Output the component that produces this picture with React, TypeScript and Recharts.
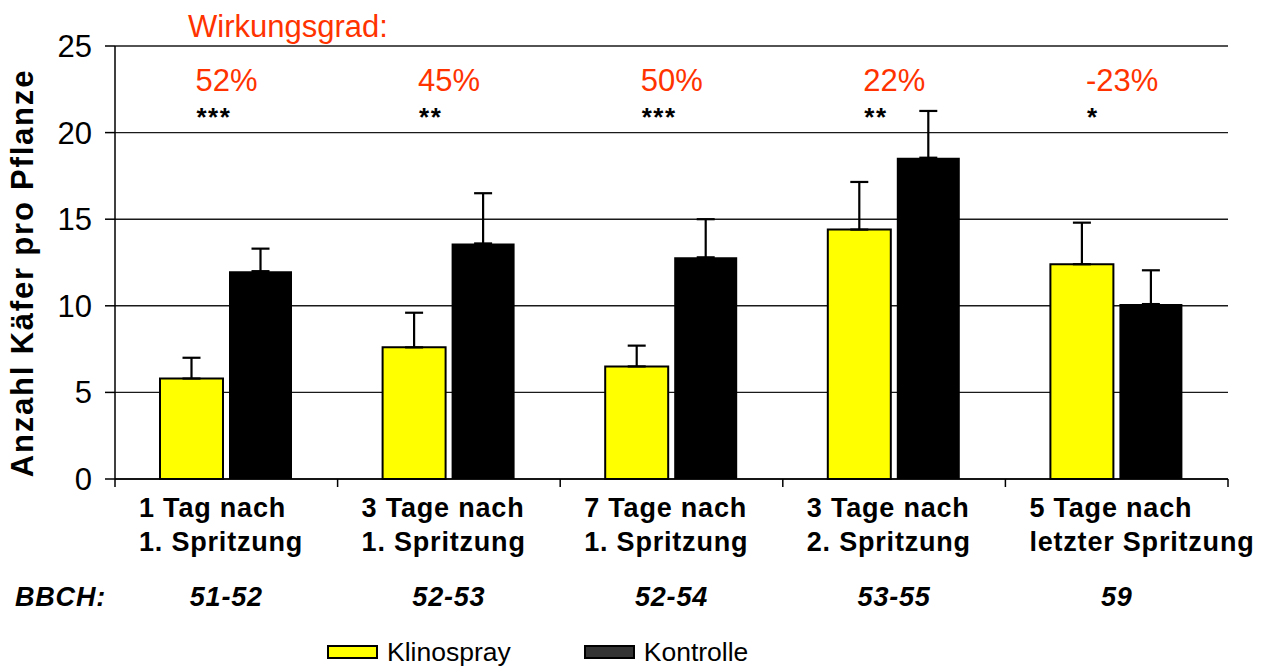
import React from 'react';
import {
  BarChart, Bar, XAxis, YAxis, CartesianGrid, ErrorBar,
  LabelList, Legend, Customized,
} from 'recharts';

const FONT = '"Liberation Sans", Arial, Helvetica, sans-serif';
const RED = '#FF3300';

// categories (two lines each) and the BBCH stage row
const categories = [
  ['1 Tag nach', '1. Spritzung'],
  ['3 Tage nach', '1. Spritzung'],
  ['7 Tage nach', '1. Spritzung'],
  ['3 Tage nach', '2. Spritzung'],
  ['5 Tage nach', 'letzter Spritzung'],
];
const bbch = ['51-52', '52-53', '52-54', '53-55', '59'];

// beetles per plant
const klinospray = [5.8, 7.6, 6.5, 14.4, 12.4];
const klinosprayErr = [1.2, 2.0, 1.2, 2.75, 2.4];
const kontrolle = [12.0, 13.6, 12.8, 18.55, 10.1];
const kontrolleErr = [1.3, 2.9, 2.2, 2.7, 1.95];

const wirkungsgrad = ['52%', '45%', '50%', '22%', '-23%'];
const signif = ['***', '**', '***', '**', '*'];

const yTicks = [0, 5, 10, 15, 20, 25];

const data = categories.map((lines, i) => ({
  name: lines.join('\n'),
  idx: i,
  klinospray: klinospray[i],
  klinosprayErr: klinosprayErr[i],
  kontrolle: kontrolle[i],
  kontrolleErr: kontrolleErr[i],
  eff: wirkungsgrad[i],
}));

function CategoryTick(props: any) {
  const { x, y, payload, index } = props;
  const half = payload && typeof payload.offset === 'number' && payload.offset > 0 ? payload.offset : 111.3;
  const left = x - half;
  const lines = String(payload.value).split('\n');
  return (
    <g>
      <line x1={left} y1={y} x2={left} y2={y + 8} stroke="#000" strokeWidth={1.5} />
      {index === categories.length - 1 && (
        <line x1={x + half} y1={y} x2={x + half} y2={y + 8} stroke="#000" strokeWidth={1.5} />
      )}
      {lines.map((l, i) => (
        <text key={i} x={left + 24} y={y + 38 + i * 34} fontFamily={FONT} fontWeight="bold"
          fontSize={27} letterSpacing={0.8} fill="#000">{l}</text>
      ))}
      <text x={x} y={y + 127} textAnchor="middle" fontFamily={FONT} fontWeight="bold"
        fontStyle="italic" fontSize={27} letterSpacing={0.8} fill="#000">{bbch[index]}</text>
    </g>
  );
}

function EffLabel(props: any) {
  const { x, width, index } = props;
  const tx = x + width / 2 + 4;
  return (
    <g>
      <text x={tx} y={91} fontFamily={FONT} fontSize={31} fill={RED}>{wirkungsgrad[index]}</text>
      <text x={tx + 1} y={126} fontFamily={FONT} fontSize={26} fontWeight="bold" letterSpacing={1.5} fill="#000">
        {signif[index]}
      </text>
    </g>
  );
}

function Annotations() {
  return (
    <g>
      <text x={188} y={37} fontFamily={FONT} fontSize={31} fill={RED}>Wirkungsgrad:</text>
      <text x={15} y={606} fontFamily={FONT} fontSize={27} fontWeight="bold" fontStyle="italic"
        letterSpacing={0.8} fill="#000">BBCH:</text>
    </g>
  );
}

function LegendContent() {
  const item = (label: string, color: string, gap: number) => (
    <div style={{ display: 'flex', alignItems: 'center', marginRight: gap }}>
      <div style={{
        width: 51, height: 14, boxSizing: 'border-box', border: '2px solid #000',
        background: color, marginRight: 9,
      }} />
      <span style={{ fontFamily: FONT, fontSize: 26.5, color: '#000', lineHeight: '28px' }}>{label}</span>
    </div>
  );
  return (
    <div style={{ display: 'flex', alignItems: 'center' }}>
      {item('Klinospray', '#FFFF00', 73)}
      {item('Kontrolle', '#333333', 0)}
    </div>
  );
}

export default function App() {
  return (
    <div style={{ position: 'absolute', left: 0, top: 0, width: 1262, height: 669, background: '#fff' }}>
      <BarChart
        width={1262}
        height={669}
        data={data}
        margin={{ top: 46, right: 34, bottom: 0, left: 0 }}
        barSize={63}
        barGap={6}
      >
        <CartesianGrid vertical={false} stroke="#1a1a1a" strokeWidth={1.4} />
        <XAxis
          dataKey="name"
          height={190}
          interval={0}
          tickSize={0}
          tickMargin={0}
          tickLine={false}
          axisLine={{ stroke: '#000', strokeWidth: 1.5 }}
          tick={<CategoryTick />}
        />
        <YAxis
          width={115}
          domain={[0, 25]}
          ticks={yTicks}
          interval={0}
          tickSize={10}
          tickMargin={13}
          axisLine={{ stroke: '#000', strokeWidth: 1.5 }}
          tickLine={{ stroke: '#000', strokeWidth: 1.5 }}
          tick={{ fill: '#000', fontSize: 31, fontFamily: FONT }}
          label={{
            content: () => (
              <text x={33} y={273} transform="rotate(-90 33 273)" textAnchor="middle"
                fontFamily={FONT} fontWeight="bold" fontSize={31} letterSpacing={1.8} fill="#000">
                Anzahl Käfer pro Pflanze
              </text>
            ),
          }}
        />
        <Legend
          verticalAlign="middle"
          align="center"
          layout="horizontal"
          content={<LegendContent />}
          wrapperStyle={{ left: 327, top: 638, width: 'auto' }}
        />
        <Bar dataKey="klinospray" name="Klinospray" fill="#FFFF00" stroke="#000" strokeWidth={2}
          isAnimationActive={false}>
          <ErrorBar dataKey={(d: any) => [0, d.klinosprayErr]} width={9} stroke="#000" strokeWidth={2.2}
            isAnimationActive={false} />
          <LabelList dataKey="eff" content={<EffLabel />} />
        </Bar>
        <Bar dataKey="kontrolle" name="Kontrolle" fill="#000" isAnimationActive={false}>
          <ErrorBar dataKey={(d: any) => [0, d.kontrolleErr]} width={9} stroke="#000" strokeWidth={2.2}
            isAnimationActive={false} />
        </Bar>
        <Customized component={Annotations} />
      </BarChart>
    </div>
  );
}
